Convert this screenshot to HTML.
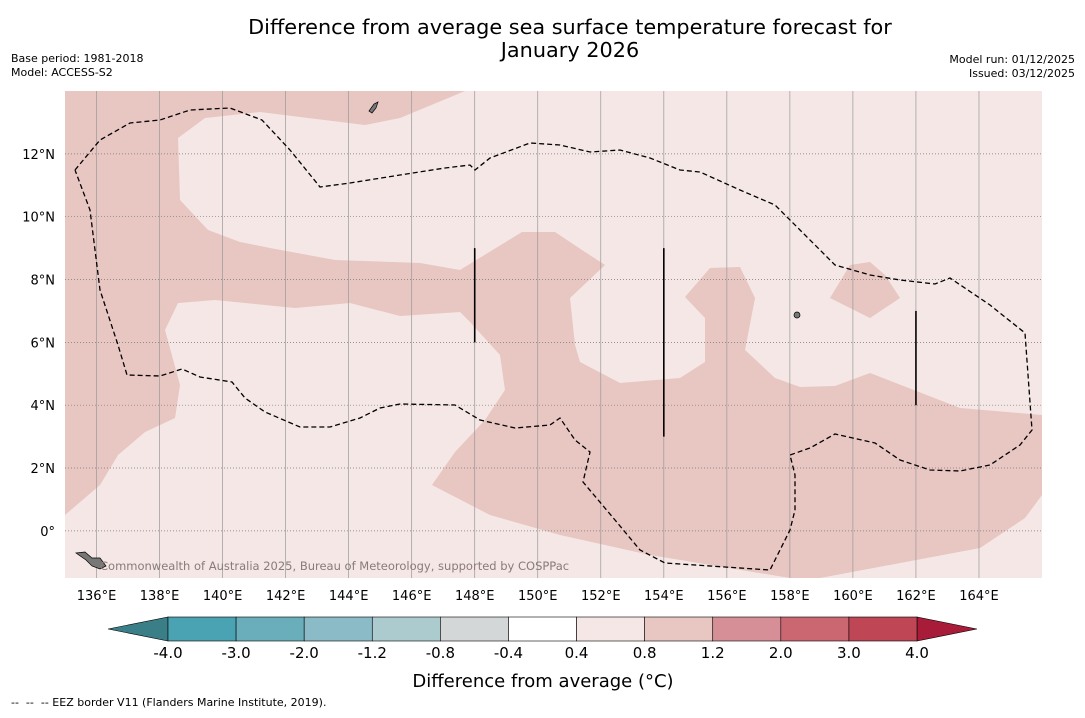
<!DOCTYPE html>
<html><head><meta charset="utf-8">
<style>
body{margin:0;width:1085px;height:713px;background:#fff;font-family:"Liberation Sans","DejaVu Sans",sans-serif;overflow:hidden}
svg text{font-family:"DejaVu Sans","Liberation Sans",sans-serif}
</style></head>
<body>
<svg id="chart" width="1085" height="713" xmlns="http://www.w3.org/2000/svg">
<text x="570" y="34" font-size="20.8" text-anchor="middle">Difference from average sea surface temperature forecast for</text>
<text x="570" y="57" font-size="20.8" text-anchor="middle">January 2026</text>
<text x="11" y="62" font-size="11">Base period: 1981-2018</text>
<text x="11" y="76" font-size="11">Model: ACCESS-S2</text>
<text x="1075" y="63" font-size="11" text-anchor="end">Model run: 01/12/2025</text>
<text x="1075" y="77" font-size="11" text-anchor="end">Issued: 03/12/2025</text>
<defs><clipPath id="mc"><rect x="65" y="91" width="977" height="487"/></clipPath></defs>
<g id="map" clip-path="url(#mc)">
<rect x="65" y="91" width="977" height="487" fill="#e8c6c2"/>
<polygon fill="#f4e7e5" points="178,138 205,118 260,112 365,125 400,118 465,91 1042,91 1042,415 960,408 870,373 835,386 800,387 775,378 745,350 755,298 740,267 710,268 685,297 705,318 705,362 680,378 620,383 580,362 575,345 570,298 605,265 585,252 555,232 522,232 460,270 420,263 335,260 270,248 240,242 208,230 180,200"/>
<polygon fill="#e8c6c2" points="830,298 850,265 870,262 885,275 900,298 870,318"/>
<polygon fill="#f4e7e5" points="65,515 100,485 118,455 145,432 175,418 180,385 165,330 178,303 215,300 295,308 350,303 400,316 460,312 470,322 500,355 505,390 485,420 455,452 432,485 490,515 560,535 650,555 790,578 65,578"/>
<polygon fill="#f4e7e5" points="820,578 980,548 1025,518 1042,495 1042,578"/>
<g id="grid"></g>
<polyline fill="none" stroke="#000" stroke-width="1.3" stroke-dasharray="5,3" points="75,170 100,140 130,123 160,120 190,110 230,108 262,120 290,150 320,187 350,183 400,175 445,168 470,165 475,170 490,158 530,143 560,145 590,152 620,150 650,158 680,170 700,172 740,190 775,205 800,230 835,265 870,275 900,280 935,284 950,278 990,305 1025,333 1032,430 1020,445 990,465 960,471 930,470 900,460 875,443 835,434 810,448 790,455 795,475 795,510 790,530 770,570 665,563 640,550 615,520 583,482 590,452 575,440 560,418 550,425 515,428 480,420 455,405 400,404 380,408 360,418 330,427 300,427 265,412 245,398 232,382 200,377 182,369 160,376 127,375 118,345 100,290 90,210 75,170"/>
<g id="marks"></g>
<polygon fill="#777" stroke="#000" stroke-width="0.7" points="76,553 85,552 92,558 100,558 106,566 100,569 92,566 86,560"/>
<polygon fill="#777" stroke="#000" stroke-width="0.7" points="369,111 374,104 378,102 376,108 372,113"/>
<ellipse cx="797" cy="315" rx="3" ry="3" fill="#777" stroke="#000" stroke-width="0.7"/>
<text x="100" y="570" font-size="11.5" fill="#8a7a7a">Commonwealth of Australia 2025, Bureau of Meteorology, supported by COSPPac</text>
</g>
<g id="axes"></g>
<g id="cbar"></g>
<text x="543" y="687" font-size="18" text-anchor="middle">Difference from average (°C)</text>
<text x="11" y="706" font-size="11" xml:space="preserve" style="white-space:pre">--  --  -- EEZ border V11 (Flanders Marine Institute, 2019).</text>
</svg>
<script>
const lonTicks=[136,138,140,142,144,146,148,150,152,154,156,158,160,162,164];
const latTicks=[0,2,4,6,8,10,12];
const markerLons=[148,154,162];
const markerLatStart=[6,3,4];
const markerLatEnd=[9,9,7];
const cbarBounds=["-4.0","-3.0","-2.0","-1.2","-0.8","-0.4","0.4","0.8","1.2","2.0","3.0","4.0"];
const cbarColors=["#4aa3b3","#6aaebb","#8bbbc6","#abcbcf","#d4d7d8","#ffffff","#f4e7e5","#e8c6c2","#d68f96","#cb6771","#be4655"];
const NS="http://www.w3.org/2000/svg";
const X0=65,X1=1042,Y0=91,Y1=578,lonMin=135,lonMax=166,latMin=-1.5,latMax=14;
function xs(lon){return X0+(lon-lonMin)/(lonMax-lonMin)*(X1-X0);}
function ys(lat){return Y1-(lat-latMin)/(latMax-latMin)*(Y1-Y0);}
function mk(t,a,p){const e=document.createElementNS(NS,t);for(const k in a)e.setAttribute(k,a[k]);p.appendChild(e);return e;}
const grid=document.getElementById('grid'),axes=document.getElementById('axes'),marks=document.getElementById('marks'),cb=document.getElementById('cbar');
lonTicks.forEach(l=>{
 const g=mk('line',{x1:xs(l),x2:xs(l),y1:Y0,y2:Y1,stroke:'#999','stroke-width':0.7},grid);
 
 
 const t=mk('text',{x:xs(l),y:600,'font-size':13,'text-anchor':'middle'},axes);t.textContent=l+'°E';
 
 
});
latTicks.forEach(l=>{
 const g=mk('line',{x1:X0,x2:X1,y1:ys(l),y2:ys(l),stroke:'#777','stroke-width':0.7,'stroke-dasharray':'1,2'},grid);
 
 
 const t=mk('text',{x:55,y:ys(l)+5,'font-size':13,'text-anchor':'end'},axes);t.textContent=l===0?'0°':l+'°N';
 
 
});
markerLons.forEach((l,i)=>{
 const m=mk('line',{x1:xs(l),x2:xs(l),y1:ys(markerLatStart[i]),y2:ys(markerLatEnd[i]),stroke:'#000','stroke-width':1.6},marks);
 
 
});
const cx0=168,cx1=917,cy=617,ch=24,n=cbarColors.length,w=(cx1-cx0)/n;
let tl=mk('polygon',{points:`${cx0},${cy} ${cx0},${cy+ch} 108,${cy+ch/2}`,fill:'#3a7f87',stroke:'#000','stroke-width':0.6},cb);


let tr=mk('polygon',{points:`${cx1},${cy} ${cx1},${cy+ch} 977,${cy+ch/2}`,fill:'#a81c3a',stroke:'#000','stroke-width':0.6},cb);


cbarColors.forEach((c,i)=>{
 const r=mk('rect',{x:cx0+i*w,y:cy,width:w,height:ch,fill:c,stroke:'#000','stroke-width':0.6},cb);
 
 
});
cbarBounds.forEach((b,i)=>{
 const t=mk('text',{x:cx0+i*w,y:658,'font-size':15,'text-anchor':'middle'},cb);t.textContent=b;
 
 
});
</script>
</body></html>
